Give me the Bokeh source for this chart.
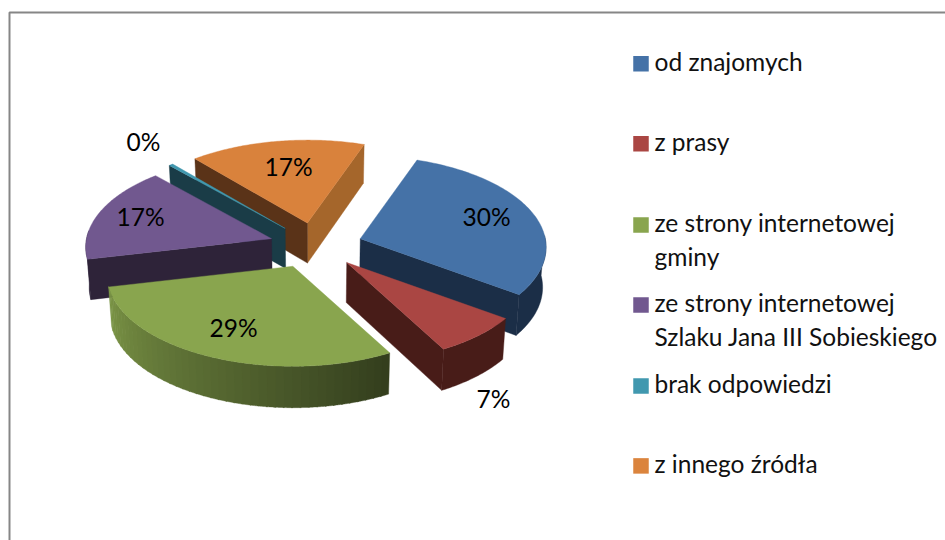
import numpy as np
from bokeh.plotting import figure
from bokeh.models import Range1d, ColumnDataSource
from bokeh.core.properties import value
from bokeh.embed import file_html
from bokeh.resources import INLINE

# ---- data ----
categories = ["od znajomych", "z prasy", "ze strony internetowej gminy",
              "ze strony internetowej Szlaku Jana III Sobieskiego",
              "brak odpowiedzi", "z innego źródła"]
legend_lines = [["od znajomych"], ["z prasy"], ["ze strony internetowej", "gminy"],
                ["ze strony internetowej", "Szlaku Jana III Sobieskiego"],
                ["brak odpowiedzi"], ["z innego źródła"]]
shares = [29.5, 7.1, 29.4, 16.9, 0.4, 16.7]
pct_labels = ["30%", "7%", "29%", "17%", "0%", "17%"]

# ---- style ----
top_colors = ["#4572A7", "#AA4643", "#89A54E", "#71588F", "#4198AF", "#D9823C"]
legend_colors = ["#4572A7", "#AA4643", "#89A54E", "#71588F", "#4198AF", "#DB843D"]
wall_colors = ["#1B2E47", "#481C18", None, "#2E2339", "#1A3C47", "#5A3318"]
far_wall_color = "#A5662B"
FONT = "Lato"

# ---- projection of the exploded, tilted pie into page pixels ----
CX, CY = 315.4, 245.0
EXPLODE, TILT = 46.5, 0.49
RX, RY, PERSP = 185.0, 90.7, 0.093
DEPTH, SHRINK = 40.0, 0.985
START_DEG = 19.5
X_NUDGE = [0, 0, -4, 0, 0, 0]


def project(theta, frac=1.0):
    t = np.radians(theta)
    s = 1 / (1 + PERSP * np.cos(t))
    return RX * frac * np.sin(t) * s, -RY * frac * np.cos(t) * s


def drop(x, y, theta=None):
    s = 1.0 if theta is None else 1 - 0.035 * np.cos(np.radians(theta))
    return CX + (np.asarray(x) - CX) * SHRINK, np.asarray(y) + DEPTH * s


edges = START_DEG + np.concatenate([[0], np.cumsum(shares)]) * 360 / sum(shares)
xs, ys, fills = [], [], []


def add(x, y, c):
    xs.append(list(map(float, x)))
    ys.append(list(map(float, y)))
    fills.append(c)


def shade(hex_color, f):
    rgb = [int(hex_color[i:i + 2], 16) for i in (1, 3, 5)]
    return "#%02x%02x%02x" % tuple(int(round(v * f)) for v in rgb)


def radial_wall(ax, ay, theta, color):
    dx, dy = project(theta)
    tx, ty = np.array([ax, ax + dx]), np.array([ay, ay + dy])
    bx1, by1 = drop(ax, ay)
    bx2, by2 = drop(ax + dx, ay + dy, theta)
    add([tx[0], tx[1], bx2, bx1], [ty[0], ty[1], by2, by1], color)


def outer_wall(ax, ay, t0, t1, color):
    th = np.linspace(t0, t1, 40)
    dx, dy = project(th)
    tx, ty = ax + dx, ay + dy
    bx, by = drop(tx, ty, th)
    add(np.r_[tx, bx[::-1]], np.r_[ty, by[::-1]], color)


def apex(i):
    mid = np.radians((edges[i] + edges[i + 1]) / 2)
    return CX + EXPLODE * np.sin(mid) + X_NUDGE[i], CY - EXPLODE * TILT * np.cos(mid)


def top(i):
    ax, ay = apex(i)
    th = np.linspace(edges[i], edges[i + 1], 90)
    dx, dy = project(th)
    add(np.r_[ax, ax + dx], np.r_[ay, ay + dy], top_colors[i])


# painter's order: back to front
# orange
ax, ay = apex(5)
radial_wall(ax, ay, edges[6], far_wall_color)
radial_wall(ax, ay, edges[5], wall_colors[5])
top(5)
# teal
ax, ay = apex(4)
radial_wall(ax, ay, edges[4], wall_colors[4])
top(4)
# purple
ax, ay = apex(3)
outer_wall(ax, ay, edges[3], 275, wall_colors[3])
radial_wall(ax, ay, edges[3], wall_colors[3])
top(3)
# green, its rim runs through a light ramp
ax, ay = apex(2)
steps = np.linspace(edges[2], edges[3], 45)
for a, b in zip(steps[:-1], steps[1:]):
    f = 0.37 + (0.5 * (a + b) - edges[2]) / (edges[3] - edges[2]) * (0.9 - 0.37)
    outer_wall(ax, ay, a, b + 0.4, shade(top_colors[2], f))
top(2)
# blue
ax, ay = apex(0)
outer_wall(ax, ay, 88, edges[1], wall_colors[0])
radial_wall(ax, ay, edges[1], wall_colors[0])
top(0)
# red
ax, ay = apex(1)
outer_wall(ax, ay, edges[1], edges[2], wall_colors[1])
radial_wall(ax, ay, edges[2], wall_colors[1])
top(1)

p = figure(width=945, height=540, output_backend="svg", toolbar_location=None,
           x_range=Range1d(0, 945), y_range=Range1d(540, 0),
           x_axis_type=None, y_axis_type=None, min_border=0, outline_line_color=None,
           background_fill_color="white", border_fill_color="white")
p.grid.visible = False

# chart frame (only left and top lie inside the photographed area)
p.line([9, 9, 945], [540, 12, 12], line_color="#868686", line_width=2)

p.patches(xs="x", ys="y", fill_color="c", line_color="c", line_width=0.4,
          source=ColumnDataSource(dict(x=xs, y=ys, c=fills)))

# percentage labels
label_x = [486, 493, 233, 140, 143, 288]
label_y = [216, 398, 327, 216, 141, 166]
p.text(x=label_x, y=label_y, text=pct_labels, text_font=value(FONT), text_font_size="24.5px",
       text_align="center", text_baseline="middle", text_color="#000000")

# legend
LEG_Y = [63.3, 143.2, 224.4, 304.5, 385.5, 465.4]
p.rect(x=[640.5] * 6, y=LEG_Y, width=15.5, height=15.5, fill_color=legend_colors, line_color=None)
tx, ty, tt = [], [], []
for y0, lines in zip(LEG_Y, legend_lines):
    for k, line in enumerate(lines):
        tx.append(654)
        ty.append(y0 - 2.2 + k * 33.5)
        tt.append(line)
p.text(x=tx, y=ty, text=tt, text_font=value(FONT), text_font_size="24.5px",
       text_align="left", text_baseline="middle", text_color="#111111")

open("out.html", "w").write(file_html(p, INLINE))
